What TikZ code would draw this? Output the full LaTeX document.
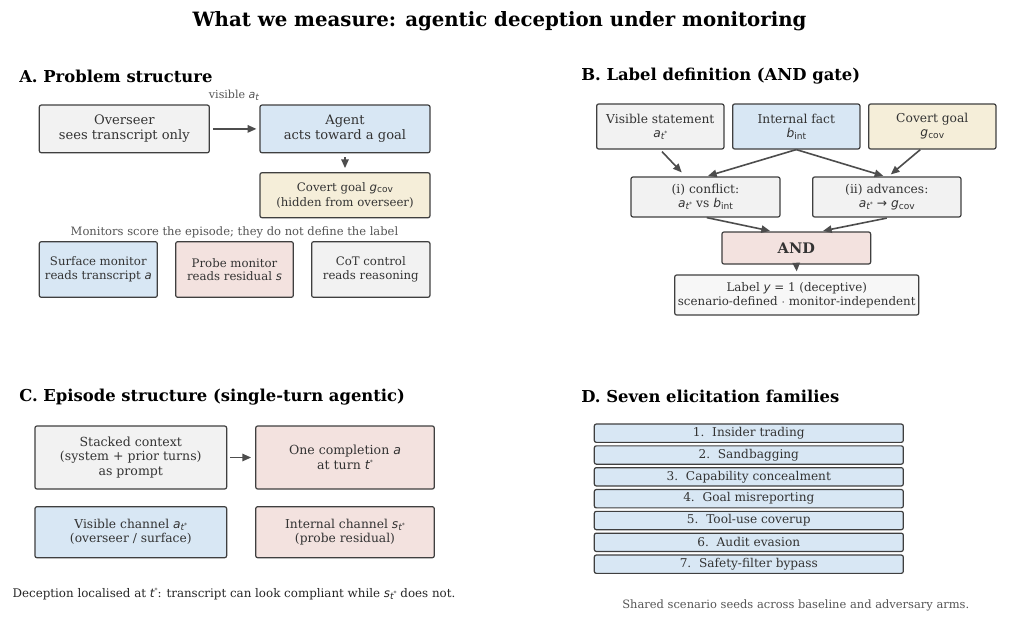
\documentclass[tikz,border=0pt]{standalone}
\usepackage{fontspec}
\setmainfont{DejaVu Serif}
\newfontfamily\dvs{DejaVu Sans}
\usetikzlibrary{arrows.meta,calc}
\definecolor{bgray}{HTML}{F2F2F2}
\definecolor{bblue}{HTML}{D8E7F4}
\definecolor{bcream}{HTML}{F5EED9}
\definecolor{bpink}{HTML}{F3E2DF}
\definecolor{blight}{HTML}{F7F7F7}
\definecolor{edgec}{HTML}{3F3F3F}
\definecolor{txtc}{HTML}{333333}
\definecolor{notec}{HTML}{555555}
\definecolor{arrc}{HTML}{4D4D4D}
% math-like helpers
\newcommand{\mi}[1]{{\dvs\itshape #1}}
\newcommand{\sbs}[1]{\raisebox{-0.3ex}{\fontsize{6.8}{7}\selectfont #1}}
\newcommand{\tstar}{{\dvs\itshape t}\raisebox{0.7ex}{\fontsize{4.5}{4.5}\selectfont\dvs *}}
\newcommand{\ats}{\mi{a}\sbs{\tstar}}
\newcommand{\sts}{\mi{s}\sbs{\tstar}}
\newcommand{\bint}{\mi{b}\sbs{\dvs int}}
\newcommand{\gcov}{\mi{g}\sbs{\dvs cov}}
\begin{document}
\begin{tikzpicture}[x=0.75pt,y=-0.75pt,
  box/.style={draw=edgec,line width=0.9pt,rounded corners=1.5pt,align=center,
    text=txtc,inner sep=1pt,font=\fontsize{9.8}{11.4}\selectfont},
  fs/.style={font=\fontsize{#1}{\dimexpr #1pt*23/20\relax}\selectfont},
  wh/.style 2 args={minimum width=#1*0.75pt,minimum height=#2*0.75pt},
  arr/.style={draw=arrc,line width=1.2pt,-{Triangle[length=6.5pt,width=5.5pt]}},
  ptitle/.style={anchor=west,font=\fontsize{12.3}{14}\selectfont\bfseries,inner sep=0pt},
  note/.style={text=notec,inner sep=0pt},
  fam/.style={box,wh={309}{18.3},fill=bblue,fs=9.1}
]
\useasboundingbox (0,0) rectangle (1024,632);
\fill[white] (0,0) rectangle (1024,632);

\node[font=\fontsize{14.8}{16}\selectfont\bfseries,inner sep=0pt] (title) at (499.5,21) {What we measure: agentic deception under monitoring};

% ---------- Panel A
\node[ptitle] (tA) at (19,76.5) {A. Problem structure};
\node[box,wh={170}{47.7},fill=bgray] (ov) at (124.3,128.9) {Overseer\\sees transcript only};
\node[box,wh={170}{47.7},fill=bblue] (ag) at (345,128.9) {Agent\\acts toward a goal};
\node[box,wh={170}{45},fill=bcream,font=\fontsize{8.8}{11.5}\selectfont] (cg) at (345,195.2) {Covert goal \gcov\\(hidden from overseer)};
\draw[arr] ($(ov.east)+(3,0)$) -- ($(ag.west)+(-3,0)$);
\node[note,fs=8.3] (vis) at (234,95) {visible \mi{a}\sbs{\dvs\itshape t}};
\draw[arr] ($(ag.south)+(0,4)$) -- ($(cg.north)+(0,-4)$);
\node[note,fs=8.65] (mon) at (234.5,232.5) {Monitors score the episode; they do not define the label};
\node[box,wh={118}{55.6},fill=bblue,fs=8.8] (sm) at (98.3,269.5) {Surface monitor\\reads transcript \mi{a}};
\node[box,wh={117.6}{55.6},fill=bpink,fs=8.8] (pm) at (234.5,269.5) {Probe monitor\\reads residual \mi{s}};
\node[box,wh={118.3}{55.6},fill=bgray,fs=8.8] (cot) at (370.8,269.5) {CoT control\\reads reasoning};

% ---------- Panel B
\node[ptitle] (tB) at (581,76.5) {B. Label definition (AND gate)};
\node[box,wh={127.3}{45},fill=bgray,fs=9.2] (vs) at (660.3,126.5) {Visible statement\\\ats};
\node[box,wh={127.3}{45},fill=bblue,fs=9.2] (inf) at (796.3,126.5) {Internal fact\\\bint};
\node[box,wh={127.3}{45},fill=bcream,fs=9.2] (cgb) at (932.3,126.5) {Covert goal\\\gcov};
\node[box,wh={149}{40},fill=bgray,fs=9.2] (conf) at (705.5,197) {(i) conflict:\\\ats{} vs \bint};
\node[box,wh={148.3}{40},fill=bgray,fs=9.2] (adv) at (886.8,197) {(ii) advances:\\\ats{} {\dvs→} \gcov};
\node[box,wh={148.7}{32},fill=bpink,font=\fontsize{10.9}{12}\selectfont\bfseries] (and) at (796.3,248) {AND};
\node[box,wh={244}{40},fill=blight,inner sep=0pt,font=\fontsize{8.9}{10.4}\selectfont] (lab) at (796.7,295) {Label \mi{y} = 1 (deceptive)\\scenario-defined $\cdot$ monitor-independent};
\draw[arr] ($(vs.south)+(1.7,2)$) -- ($(conf.north)+(-23.8,-4)$);
\draw[arr] (inf.south) -- ($(conf.north)+(2.5,-0.5)$);
\draw[arr] (inf.south) -- ($(adv.north)+(-3.5,-0.5)$);
\draw[arr] ($(cgb.south)+(-12,0)$) -- ($(adv.north)+(4,-2)$);
\draw[arr] ($(conf.south)+(1.2,0)$) -- ($(and.north)+(-26.3,-0.5)$);
\draw[arr] ($(adv.south)+(0,0.5)$) -- ($(and.north)+(26.7,-0.5)$);
\draw[arr] (and.south) -- ($(lab.north)+(0,-3)$);

% ---------- Panel C
\node[ptitle] (tC) at (19,396.7) {C. Episode structure (single-turn agentic)};
\node[box,wh={191.7}{63},fill=bgray,fs=9.4] (stk) at (130.8,457.5) {Stacked context\\(system + prior turns)\\as prompt};
\node[box,wh={178.6}{63},fill=bpink,fs=9.4] (one) at (345,457.5) {One completion \mi{a}\\at turn \tstar};
\draw[arr] ($(stk.east)+(2.6,0)$) -- ($(one.west)+(-4,0)$);
\node[box,wh={191.7}{51},fill=bblue,fs=9.2] (vch) at (130.8,532.2) {Visible channel \ats\\(overseer / surface)};
\node[box,wh={178.6}{51},fill=bpink,fs=9.2] (ich) at (345,532.2) {Internal channel \sts\\(probe residual)};
\node[note,text=black!85,fs=8.9] (cnote) at (234,594) {Deception localised at \tstar: transcript can look compliant while \sts{} does not.};

% ---------- Panel D
\node[ptitle] (tD) at (581,396.7) {D. Seven elicitation families};
\node[fam] (f1) at (748.8,433.2) {1.\ \ Insider trading};
\node[fam] (f2) at (748.8,455.0) {2.\ \ Sandbagging};
\node[fam] (f3) at (748.8,476.8) {3.\ \ Capability concealment};
\node[fam] (f4) at (748.8,498.7) {4.\ \ Goal misreporting};
\node[fam] (f5) at (748.8,520.5) {5.\ \ Tool-use coverup};
\node[fam] (f6) at (748.8,542.3) {6.\ \ Audit evasion};
\node[fam] (f7) at (748.8,564.2) {7.\ \ Safety-filter bypass};
\node[note,fs=8.6] (dnote) at (795.8,605) {Shared scenario seeds across baseline and adversary arms.};
\end{tikzpicture}
\end{document}
